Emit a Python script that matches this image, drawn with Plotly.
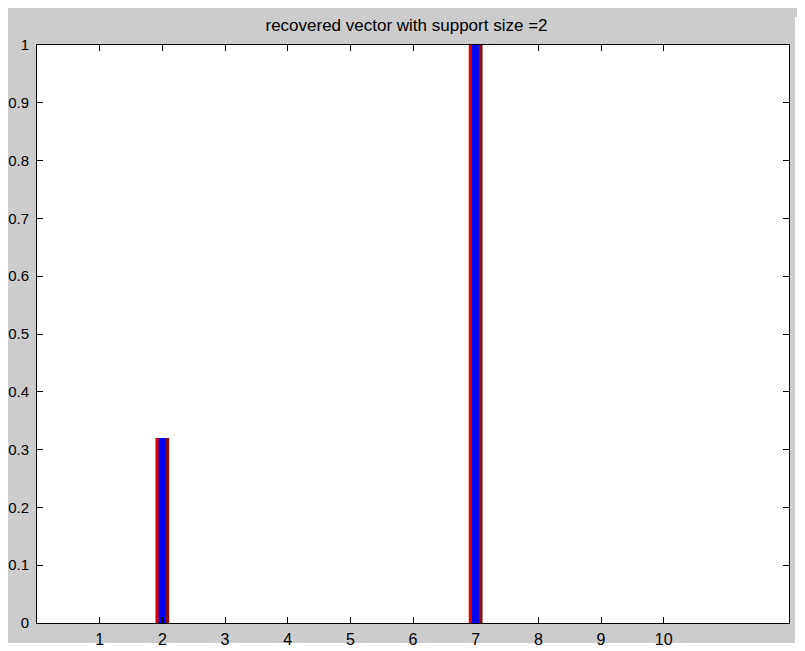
import plotly.graph_objects as go

# valeurs du vecteur retrouvé (indices 1..10)
indices = [1, 2, 3, 4, 5, 6, 7, 8, 9, 10]
valeurs = [0, 0.32, 0, 0, 0, 0, 1.0, 0, 0, 0]
y_ticks = [0, 0.1, 0.2, 0.3, 0.4, 0.5, 0.6, 0.7, 0.8, 0.9, 1]
y_labels = ["0", "0.1", "0.2", "0.3", "0.4", "0.5", "0.6", "0.7", "0.8", "0.9", "1"]

fig = go.Figure()

# moitié gauche rouge, moitié droite rouge foncé, centre bleu
fig.add_trace(go.Bar(x=indices, y=valeurs, width=0.11, offset=-0.11,
                     marker=dict(color="#e00000", line=dict(width=0))))
fig.add_trace(go.Bar(x=indices, y=valeurs, width=0.11, offset=0,
                     marker=dict(color="#8a1010", line=dict(width=0))))
fig.add_trace(go.Bar(x=indices, y=valeurs, width=0.11, offset=-0.06,
                     marker=dict(color="#0000ff", line=dict(width=0))))

# la page a déjà une marge blanche de 8px en haut et à gauche
# bandes blanches à droite et en bas du fond gris
pw, ph = 752, 578
bords = [
    dict(x0=758 / pw, x1=770 / pw, y0=-28 / ph, y1=606 / ph),   # droite
    dict(x0=-29 / pw, x1=770 / pw, y0=-28 / ph, y1=-20 / ph),   # bas
]
shapes = [dict(type="rect", xref="paper", yref="paper", layer="below",
               fillcolor="white", line=dict(width=0), **b) for b in bords]

fig.update_layout(
    width=797, height=643,
    barmode="overlay",
    showlegend=False,
    paper_bgcolor="#cccccc",
    plot_bgcolor="white",
    margin=dict(l=29, r=16, t=37, b=28, autoexpand=False),
    font=dict(family="Liberation Sans", size=15, color="black"),
    title=dict(text="recovered vector with support size =2", x=0.5, xanchor="center",
               y=1 - 17 / 643, yanchor="middle", font=dict(size=17, color="black")),
    shapes=shapes,
)

fig.update_xaxes(range=[0, 12], tickvals=indices, ticktext=[str(i) for i in indices],
                 ticks="inside", ticklen=6, tickcolor="black", showgrid=False,
                 zeroline=False, showline=True, linecolor="black", linewidth=1,
                 mirror="ticks", ticklabelstandoff=2, automargin=False,
                 tickfont=dict(size=16))
fig.update_yaxes(range=[0, 1], tickvals=y_ticks, ticktext=y_labels,
                 ticks="inside", ticklen=6, tickcolor="black", showgrid=False,
                 zeroline=False, showline=True, linecolor="black", linewidth=1,
                 mirror="ticks", ticklabelstandoff=4, automargin=False,
                 tickfont=dict(size=15))

fig.write_html("out.html")
